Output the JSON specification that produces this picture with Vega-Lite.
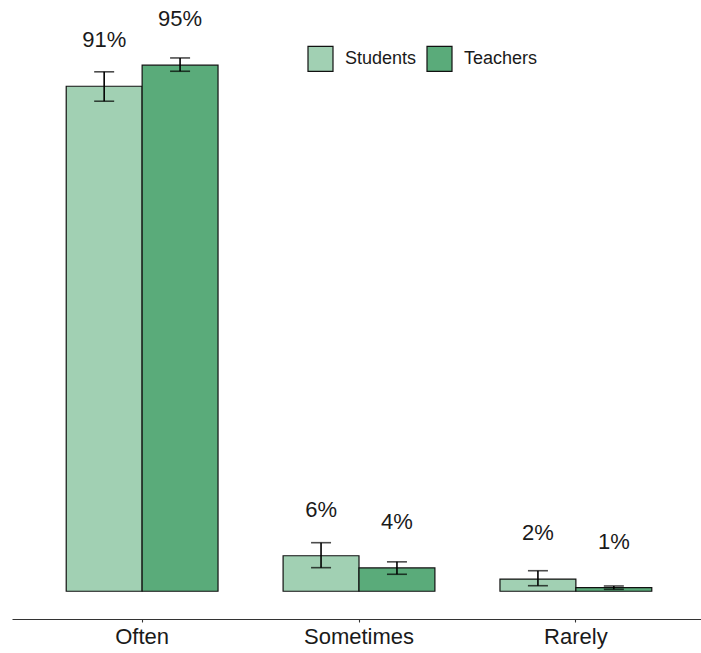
{
  "$schema": "https://vega.github.io/schema/vega-lite/v6.json",
  "width": 689,
  "height": 616,
  "autosize": {"type": "none"},
  "padding": {"left": 12, "top": 3, "right": 0, "bottom": 34},
  "background": "white",
  "config": {"view": {"stroke": null}, "font": "Liberation Sans"},
  "data": {
    "values": [
      {"freq": "Often", "group": "Students", "pct": 91, "lo": 88.3, "hi": 93.6, "label": "91%"},
      {"freq": "Often", "group": "Teachers", "pct": 94.8, "lo": 93.7, "hi": 96.1, "label": "95%"},
      {"freq": "Sometimes", "group": "Students", "pct": 6.4, "lo": 4.25, "hi": 8.75, "label": "6%"},
      {"freq": "Sometimes", "group": "Teachers", "pct": 4.2, "lo": 3.06, "hi": 5.3, "label": "4%"},
      {"freq": "Rarely", "group": "Students", "pct": 2.2, "lo": 1.0, "hi": 3.7, "label": "2%"},
      {"freq": "Rarely", "group": "Teachers", "pct": 0.65, "lo": 0.35, "hi": 0.95, "label": "1%"}
    ]
  },
  "encoding": {
    "x": {
      "field": "freq", "type": "nominal", "sort": ["Often", "Sometimes", "Rarely"],
      "scale": {"paddingInner": 0.3, "paddingOuter": 0.25, "range": [0, 694]},
      "axis": {
        "title": null, "labelAngle": 0, "labelFontSize": 22, "labelColor": "#1a1a1a",
        "domainColor": "#333333", "domainWidth": 1.1, "tickColor": "#333333", "tickSize": 3,
        "tickWidth": 1.1, "labelPadding": 4, "grid": false
      }
    },
    "xOffset": {"field": "group", "type": "nominal", "scale": {"paddingInner": 0, "paddingOuter": 0}}
  },
  "layer": [
    {
      "mark": {"type": "bar", "stroke": "#111111", "strokeWidth": 1.2},
      "encoding": {
        "y": {"field": "pct", "type": "quantitative", "scale": {"domain": [-5, 106], "nice": false, "zero": false}, "axis": null},
        "color": {
          "field": "group", "type": "nominal",
          "scale": {"domain": ["Students", "Teachers"], "range": ["#a1d0b3", "#5aab7a"]},
          "legend": {
            "title": null, "orient": "none", "direction": "horizontal", "legendX": 295, "legendY": 42,
            "symbolType": "square", "symbolSize": 625, "symbolStrokeColor": "#111111", "symbolStrokeWidth": 1.2,
            "labelFontSize": 18, "labelColor": "#1a1a1a", "labelOffset": 11, "columnPadding": 7, "padding": 0
          }
        }
      }
    },
    {
      "mark": {"type": "rule", "color": "black", "strokeWidth": 1.6},
      "encoding": {
        "y": {"field": "lo", "type": "quantitative"},
        "y2": {"field": "hi"}
      }
    },
    {
      "mark": {"type": "tick", "color": "black", "thickness": 1.6, "size": 20},
      "encoding": {"y": {"field": "lo", "type": "quantitative"}}
    },
    {
      "mark": {"type": "tick", "color": "black", "thickness": 1.6, "size": 20},
      "encoding": {"y": {"field": "hi", "type": "quantitative"}}
    },
    {
      "mark": {"type": "text", "fontSize": 22, "color": "#1a1a1a", "baseline": "alphabetic", "dy": -39},
      "encoding": {
        "y": {"field": "pct", "type": "quantitative"},
        "text": {"field": "label"}
      }
    }
  ]
}
